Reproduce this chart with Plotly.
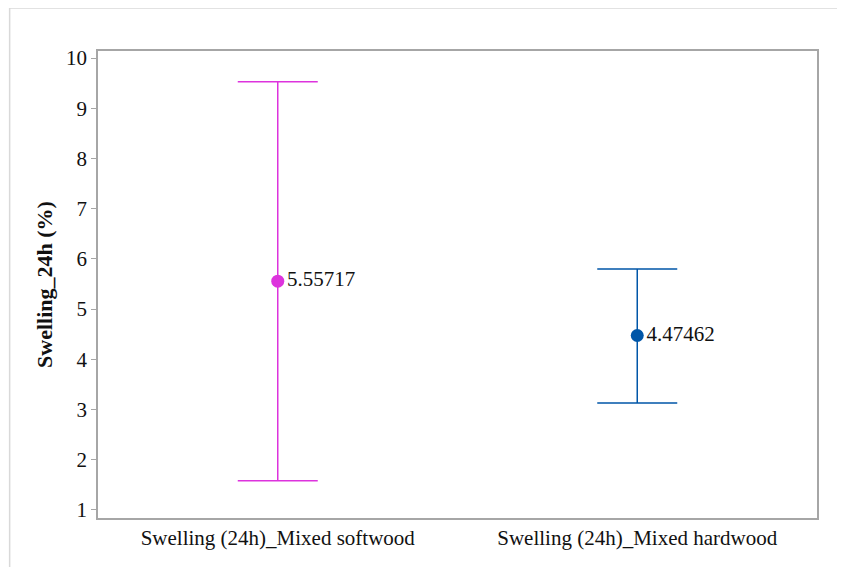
import plotly.graph_objects as go

categories = ["Swelling (24h)_Mixed softwood", "Swelling (24h)_Mixed hardwood"]
means = [5.55717, 4.47462]
upper = [9.53, 5.80]
lower = [1.58, 3.13]
colors = ["#DD33DD", "#0056A8"]
labels = ["5.55717", "4.47462"]
y_ticks = [1, 2, 3, 4, 5, 6, 7, 8, 9, 10]

FONT = "Liberation Serif"
FS = 21

fig = go.Figure()
for i in range(len(categories)):
    fig.add_trace(go.Scatter(
        x=[categories[i]], y=[means[i]],
        mode="markers+text",
        text=[labels[i]], textposition="middle right",
        textfont=dict(family=FONT, size=FS, color="#111111"),
        marker=dict(color=colors[i], size=13),
        error_y=dict(type="data", symmetric=False,
                     array=[upper[i] - means[i]], arrayminus=[means[i] - lower[i]],
                     color=colors[i], thickness=1.5, width=40),
        showlegend=False,
        cliponaxis=False,
    ))

# page body has an 8px default margin, so the figure is sized to fit the window
fig.update_layout(
    width=837, height=559,
    paper_bgcolor="white", plot_bgcolor="white",
    margin=dict(l=89.5, r=27.5, t=43, b=49, pad=0),
    font=dict(family=FONT, size=FS, color="#111111"),
    xaxis=dict(type="category", range=[-0.5, 1.5], showline=True, linecolor="#a6a6a6",
               linewidth=1.5, mirror=True, ticks="", showgrid=False, zeroline=False,
               tickfont=dict(family=FONT, size=FS, color="#111111")),
    yaxis=dict(range=[0.84, 10.14], tickvals=y_ticks, showline=True, linecolor="#a6a6a6",
               linewidth=1.5, mirror=True, ticks="outside", ticklen=5, tickcolor="#a6a6a6",
               showgrid=False, zeroline=False,
               title=dict(text="<b>Swelling_24h (%)</b>", font=dict(family=FONT, size=22, color="#111111"), standoff=7),
               tickfont=dict(family=FONT, size=FS, color="#111111")),
    shapes=[dict(type="rect", xref="paper", yref="paper",
                 x0=-0.1229, x1=1.2, y0=-0.3, y1=1.092,
                 line=dict(color="#d9d9d9", width=1.5), fillcolor="rgba(0,0,0,0)", layer="below")],
)

fig.write_html("out.html")
